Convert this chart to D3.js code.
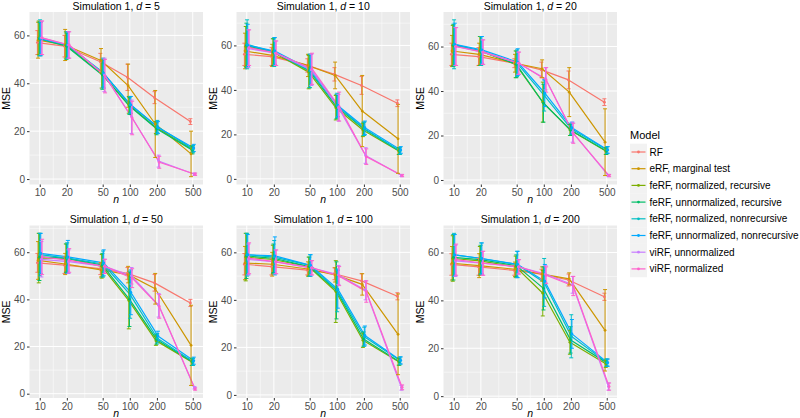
<!DOCTYPE html>
<html>
<head>
<meta charset="utf-8">
<script src="https://cdn.jsdelivr.net/npm/d3@7"></script>
<style>
body { margin: 0; background: #fff; }
svg { font-family: "Liberation Sans", Arial, sans-serif; }
</style>
</head>
<body>
<svg id="chart" width="800" height="418"></svg>
<script>
var nVals = [10, 20, 50, 100, 200, 500];
var dVals = [5, 10, 20, 50, 100, 200];
var models = ["RF", "eRF, marginal test", "feRF, normalized, recursive", "feRF, unnormalized, recursive",
    "feRF, normalized, nonrecursive", "feRF, unnormalized, nonrecursive", "viRF, unnormalized", "viRF, normalized"];
var colors = ["#F8766D", "#CD9600", "#7CAE00", "#00BE67", "#00BFC4", "#00A9FF", "#C77CFF", "#FF61CC"];

// mean MSE, one row per model, columns follow nVals
var mse_d5 = [
    [57, 55.5, 49, 42.5, 34, 24],
    [58, 56, 49.5, 39, 23, 10.5],
    [59, 56, 44, 31, 21.5, 12.5],
    [58.5, 55.5, 43.5, 30.5, 21, 12],
    [59, 56, 44.5, 31, 22, 12.5],
    [58.5, 56, 44, 31, 21.5, 13],
    [59, 56, 43.5, 26, 7.5, 2],
    [59, 56, 43, 25.5, 7, 2]
];
var sd_d5 = [
    [5, 4.5, 3.5, 5.5, 2.5, 1.2],
    [7.5, 6.5, 5, 9, 14, 9.5],
    [7, 5.5, 6, 3.5, 2.5, 1.5],
    [7, 5.5, 6, 3.5, 2.5, 1.5],
    [7.5, 5.5, 6, 3.5, 2.5, 1.5],
    [7, 5.5, 6, 3.5, 2.5, 1.5],
    [7, 5.5, 7, 7, 2.5, 0.5],
    [7, 5.5, 7, 7, 2.5, 0.5]
];
var mse_d10 = [
    [56, 55, 51, 47, 42, 34],
    [57.5, 55.5, 51, 46.5, 30.5, 18],
    [59.5, 57, 48, 32, 22, 12.5],
    [60, 57, 48.5, 32.5, 22.5, 12.5],
    [60.5, 57, 48.5, 33, 22.5, 12.5],
    [60, 57.5, 49, 33, 23, 13],
    [58.5, 56.5, 49, 32, 10.5, 1.5],
    [59, 56.5, 49.5, 32.5, 10, 1.5]
];
var sd_d10 = [
    [5, 4, 3, 3, 4, 1.5],
    [8, 5, 5, 6, 16, 15.5],
    [9, 6, 7.5, 5.5, 3, 1.5],
    [10, 6, 7.5, 5.5, 3, 1.5],
    [11, 6.5, 7.5, 5.5, 3, 1.5],
    [9.5, 6, 7, 5, 3, 1.5],
    [8.5, 5.5, 7, 6, 3.5, 0.5],
    [8, 5.5, 7, 6.5, 3.5, 0.5]
];
var mse_d20 = [
    [56.5, 55.5, 52.5, 49.5, 45, 35],
    [58, 56.5, 52.5, 50, 39.5, 17],
    [60.5, 58, 52, 35, 22.5, 13],
    [60.5, 58, 52, 34.5, 22.5, 13],
    [61, 58, 52.5, 38, 23, 13.5],
    [61, 58.5, 53, 39, 23.5, 13.5],
    [60, 57.5, 52.5, 45.5, 21.5, 2],
    [60, 57.5, 52.5, 45, 21, 2]
];
var sd_d20 = [
    [5, 4, 2, 3.5, 4, 1.5],
    [7, 5, 4, 4, 11, 15],
    [9, 6.5, 6, 9, 2.5, 1.5],
    [9.5, 6.5, 6, 8.5, 2.5, 1.5],
    [11, 6.5, 6, 7, 2.5, 1.5],
    [9.5, 6, 6, 6, 2.5, 1.5],
    [8.5, 5.5, 5, 5, 4.5, 0.5],
    [8.5, 5.5, 5, 5.5, 4.5, 0.5]
];
var mse_d50 = [
    [55.5, 54.5, 53, 51, 47, 38.5],
    [56.5, 55, 52.5, 50.5, 44.5, 20.5],
    [57.5, 57.5, 54, 39.5, 22.5, 13.5],
    [58, 57.5, 54.5, 40, 23, 13.5],
    [59, 57.5, 55, 42, 23.5, 13.5],
    [59.5, 58, 55.5, 43, 24.5, 14],
    [57, 56, 54, 50, 37.5, 2.5],
    [58, 56.5, 54, 49, 37, 2]
];
var sd_d50 = [
    [4, 3.5, 2.5, 2.5, 3.5, 1.5],
    [8, 4.5, 3, 3.5, 6.5, 17],
    [10.5, 6, 5, 12, 2, 1.5],
    [10, 6, 5, 11.5, 2, 1.5],
    [9, 6.5, 5.5, 10, 2, 1.5],
    [8.5, 7, 5.5, 9.5, 2, 1.5],
    [7.5, 5, 3, 3.5, 5, 0.5],
    [7.5, 5, 3, 4, 5, 0.5]
];
var mse_d100 = [
    [55, 54, 52.5, 51, 48, 41.5],
    [55.5, 55, 53, 50.5, 46.5, 25.5],
    [58, 57, 54, 43.5, 23, 14],
    [58.5, 57.5, 54, 44, 23.5, 14],
    [59, 58, 54.5, 44, 24.5, 14.5],
    [59, 58.5, 54.5, 44.5, 25, 14.5],
    [57, 56, 53.5, 50.5, 44, 3],
    [57.5, 56, 53.5, 50, 43.5, 3.2]
];
var sd_d100 = [
    [4.5, 3.5, 2, 2.5, 3, 1.5],
    [7, 5, 3, 3, 4.5, 17],
    [10, 6, 4, 13, 3, 1.5],
    [9.5, 6, 4, 12, 3, 1.5],
    [9, 7, 4.5, 9, 4, 1.5],
    [8.5, 8, 4.5, 8, 4, 1.5],
    [6.5, 5, 3, 4, 4, 1],
    [6.5, 5, 3, 4, 4.5, 1]
];
var mse_d200 = [
    [55, 54, 52.5, 51, 48.5, 41.5],
    [55.5, 54.5, 53, 51, 49, 27.5],
    [57.5, 56.5, 54, 43, 22.5, 13.5],
    [58, 57, 54.5, 45, 23.5, 14],
    [59, 57.5, 55, 47.5, 25, 14],
    [59, 57.5, 55, 48, 26, 14],
    [56.5, 55.5, 54, 51, 46.5, 4],
    [57, 55.5, 54, 50.5, 46, 4]
];
var sd_d200 = [
    [4.5, 3.5, 2, 2, 2.5, 1.5],
    [7, 5, 3, 3, 2.5, 17],
    [9.5, 6, 4.5, 9.5, 5, 1.5],
    [9.5, 6, 4.5, 9, 5.5, 1.5],
    [9, 6.5, 5.5, 10, 9, 1.5],
    [8.5, 6.5, 5.5, 7, 6, 1.5],
    [6.5, 5, 3, 3.5, 3.5, 1.5],
    [6.5, 5, 3, 3.5, 4, 1.5]
];
var yTicks = [0, 20, 40, 60];

var means = [mse_d5, mse_d10, mse_d20, mse_d50, mse_d100, mse_d200];
var sds = [sd_d5, sd_d10, sd_d20, sd_d50, sd_d100, sd_d200];

var panelLeft = [29.5, 236.5, 443.5],
    panelTop = [12, 225.5],
    pw = 173.5,
    ph = 172.5;
var dodge = 0.06; // in log10 units

var svg = d3.select("#chart");

function dodgeOff(i) { return (i - 3.5) * dodge / 8; }

dVals.forEach(function(d, p) {
    var left = panelLeft[p % 3], top = panelTop[Math.floor(p / 3)];
    var g = svg.append("g").attr("transform", "translate(" + left + "," + top + ")");

    var lo = Math.log10(nVals[0]) + dodgeOff(0), hi = Math.log10(nVals[5]) + dodgeOff(7);
    var ex = (hi - lo) * 0.05;
    var x = d3.scaleLog()
        .domain([Math.pow(10, lo - ex), Math.pow(10, hi + ex)])
        .range([0, pw]);

    var m = means[p], s = sds[p];
    var ymin = d3.min(m, function(r, i) { return d3.min(r, function(v, j) { return v - s[i][j]; }); });
    var ymax = d3.max(m, function(r, i) { return d3.max(r, function(v, j) { return v + s[i][j]; }); });
    var ey = (ymax - ymin) * 0.05;
    var y = d3.scaleLinear().domain([ymin - ey, ymax + ey]).range([ph, 0]);

    g.append("rect").attr("width", pw).attr("height", ph).attr("fill", "#EBEBEB");

    // minor grid
    var xMinor = [];
    for (var k = 0; k < nVals.length - 1; k++) xMinor.push(Math.sqrt(nVals[k] * nVals[k + 1]));
    g.selectAll(".xminor").data(xMinor).enter().append("line")
        .attr("x1", x).attr("x2", x).attr("y1", 0).attr("y2", ph)
        .attr("stroke", "#fff").attr("stroke-width", 0.5);
    var yMinor = [10, 30, 50, 70].filter(function(v) { return v >= y.domain()[0] && v <= y.domain()[1]; });
    g.selectAll(".yminor").data(yMinor).enter().append("line")
        .attr("x1", 0).attr("x2", pw).attr("y1", y).attr("y2", y)
        .attr("stroke", "#fff").attr("stroke-width", 0.5);
    // major grid
    g.selectAll(".xmajor").data(nVals).enter().append("line")
        .attr("x1", x).attr("x2", x).attr("y1", 0).attr("y2", ph)
        .attr("stroke", "#fff").attr("stroke-width", 1);
    g.selectAll(".ymajor").data(yTicks).enter().append("line")
        .attr("x1", 0).attr("x2", pw).attr("y1", y).attr("y2", y)
        .attr("stroke", "#fff").attr("stroke-width", 1);

    // axes
    var xa = g.append("g").attr("transform", "translate(0," + ph + ")")
        .call(d3.axisBottom(x).tickValues(nVals).tickFormat(d3.format("d")).tickSize(2.5).tickPadding(2));
    var ya = g.append("g")
        .call(d3.axisLeft(y).tickValues(yTicks).tickSize(2.5).tickPadding(2));
    [xa, ya].forEach(function(a) {
        a.select(".domain").remove();
        a.selectAll(".tick line").attr("stroke", "#333");
        a.selectAll(".tick text").attr("fill", "#4D4D4D").style("font-size", "10px")
            .style("font-family", "Liberation Sans, Arial, sans-serif");
    });

    var line = d3.line()
        .x(function(v, j) { return v[0]; })
        .y(function(v) { return v[1]; });

    models.forEach(function(name, i) {
        var pts = nVals.map(function(n, j) {
            return [x(n * Math.pow(10, dodgeOff(i))), y(m[i][j])];
        });
        g.append("path").attr("d", line(pts)).attr("fill", "none")
            .attr("stroke", colors[i]).attr("stroke-width", 1.2).attr("stroke-linejoin", "round");
    });
    models.forEach(function(name, i) {
        nVals.forEach(function(n, j) {
            var cx = x(n * Math.pow(10, dodgeOff(i)));
            var y1 = y(m[i][j] + s[i][j]), y2 = y(m[i][j] - s[i][j]);
            var eb = g.append("g").attr("stroke", colors[i]).attr("stroke-width", 1);
            eb.append("line").attr("x1", cx).attr("x2", cx).attr("y1", y1).attr("y2", y2);
            eb.append("line").attr("x1", cx - 2).attr("x2", cx + 2).attr("y1", y1).attr("y2", y1);
            eb.append("line").attr("x1", cx - 2).attr("x2", cx + 2).attr("y1", y2).attr("y2", y2);
        });
    });
    models.forEach(function(name, i) {
        g.selectAll(".pt" + i).data(nVals).enter().append("circle")
            .attr("cx", function(n) { return x(n * Math.pow(10, dodgeOff(i))); })
            .attr("cy", function(n, j) { return y(m[i][j]); })
            .attr("r", 1.4).attr("fill", colors[i]);
    });

    // titles
    var t = g.append("text").attr("x", pw / 2).attr("y", -2.5).attr("text-anchor", "middle")
        .style("font-size", "10.5px").attr("fill", "#000");
    t.append("tspan").text("Simulation 1, ");
    t.append("tspan").style("font-style", "italic").text("d");
    t.append("tspan").text(" = " + d);

    g.append("text").attr("x", pw / 2).attr("y", ph + 18.5).attr("text-anchor", "middle")
        .style("font-size", "10.5px").style("font-style", "italic").text("n");
    g.append("text").attr("transform", "translate(-20," + (ph / 2) + ") rotate(-90)")
        .attr("text-anchor", "middle").style("font-size", "10.5px").text("MSE");
});

// legend
var lg = svg.append("g").attr("transform", "translate(630,0)");
lg.append("text").attr("x", 0).attr("y", 139).style("font-size", "11px").text("Model");
var keyH = 16.7;
models.forEach(function(name, i) {
    var cy = 152 + i * keyH;
    lg.append("rect").attr("x", 0).attr("y", cy - keyH / 2).attr("width", 17).attr("height", keyH)
        .attr("fill", "#F2F2F2");
    lg.append("line").attr("x1", 1.5).attr("x2", 15.5).attr("y1", cy).attr("y2", cy)
        .attr("stroke", colors[i]).attr("stroke-width", 1.2);
    lg.append("circle").attr("cx", 8.5).attr("cy", cy).attr("r", 1.4).attr("fill", colors[i]);
    lg.append("text").attr("x", 19.5).attr("y", cy + 3.5).style("font-size", "10px").text(name);
});
</script>
</body>
</html>
